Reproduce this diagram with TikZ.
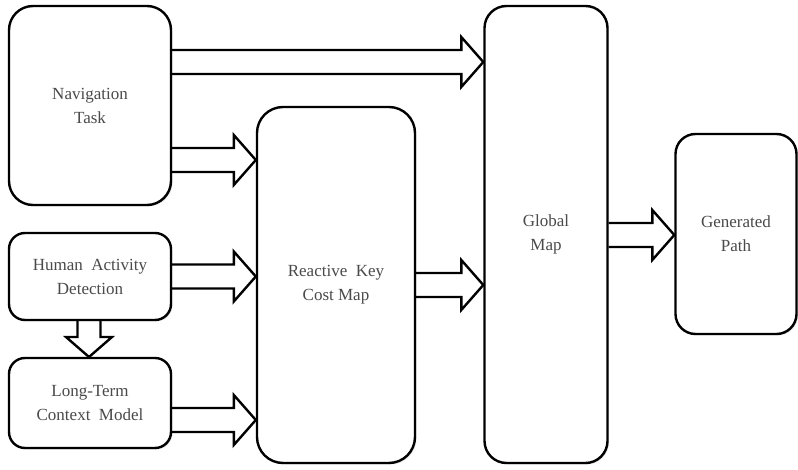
\documentclass[tikz,border=0pt]{standalone}
\usepackage{fontspec}
\setmainfont{Liberation Serif}
\usetikzlibrary{calc,shadows}
\definecolor{txtgray}{HTML}{4A4A4A}
\tikzset{
  box/.style={draw=black, line width=2.4pt, fill=white, rounded corners=#1,
    align=center, text=txtgray, inner sep=0pt,
    font=\fontsize{17}{24}\selectfont,
    drop shadow={opacity=0.2, shadow xshift=1.5pt, shadow yshift=-1.5pt}},
  box/.default=20pt,
  barrow/.style={draw=black, line width=2.4pt, line join=miter, fill=none}
}
% horizontal block arrow: #1 start point, #2 tip point
\newcommand{\harrow}[2]{%
  \draw[barrow] let \p1=(#1), \p2=(#2) in
    (\x1,\y2+12pt) -- (\x2-22pt,\y2+12pt) -- (\x2-22pt,\y2+25pt) -- (\x2,\y2)
    -- (\x2-22pt,\y2-25pt) -- (\x2-22pt,\y2-12pt) -- (\x1,\y2-12pt);}
% vertical block arrow (downwards): #1 start point, #2 tip point
\newcommand{\varrow}[2]{%
  \draw[barrow] let \p1=(#1), \p2=(#2) in
    (\x2-11.5pt,\y1) -- (\x2-11.5pt,\y2+20pt) -- (\x2-23pt,\y2+20pt) -- (\x2,\y2)
    -- (\x2+23pt,\y2+20pt) -- (\x2+11.5pt,\y2+20pt) -- (\x2+11.5pt,\y1);}
\begin{document}
\begin{tikzpicture}[x=1pt,y=-1pt]
\useasboundingbox (0,0) rectangle (798,470);

\node[box=24pt, minimum width=162pt, minimum height=199pt] (nav) at (90,105.5) {Navigation\\Task};
\node[box=16pt, minimum width=162pt, minimum height=87pt] (had) at (90,276.5) {Human\ \ Activity\\Detection};
\node[box=16pt, minimum width=162pt, minimum height=90pt] (ltcm) at (90,403) {Long-Term\\Context\ \ Model};
\node[box=26pt, minimum width=158pt, minimum height=356pt] (rkcm) at (336,285) {Reactive\ \ Key\\Cost Map};
\node[box=22pt, minimum width=123pt, minimum height=457pt] (gm) at (546,234.5) {Global\\Map};
\node[box=20pt, minimum width=121pt, minimum height=200pt] (gp) at (736,234) {Generated\\Path};

% arrows
\coordinate (t1) at (gm.west |- 0,62);
\harrow{nav.east}{t1}
\coordinate (t2) at (rkcm.west |- 0,160);
\harrow{nav.east}{t2}
\coordinate (t3) at (rkcm.west |- 0,276.5);
\harrow{had.east}{t3}
\coordinate (t4) at (rkcm.west |- 0,420);
\harrow{ltcm.east}{t4}
\coordinate (t5) at (gm.west |- 0,285);
\harrow{rkcm.east}{t5}
\coordinate (t6) at (gp.west |- 0,235);
\harrow{gm.east}{t6}
\coordinate (t7) at (89,357);
\varrow{had.south}{t7}
\end{tikzpicture}
\end{document}
